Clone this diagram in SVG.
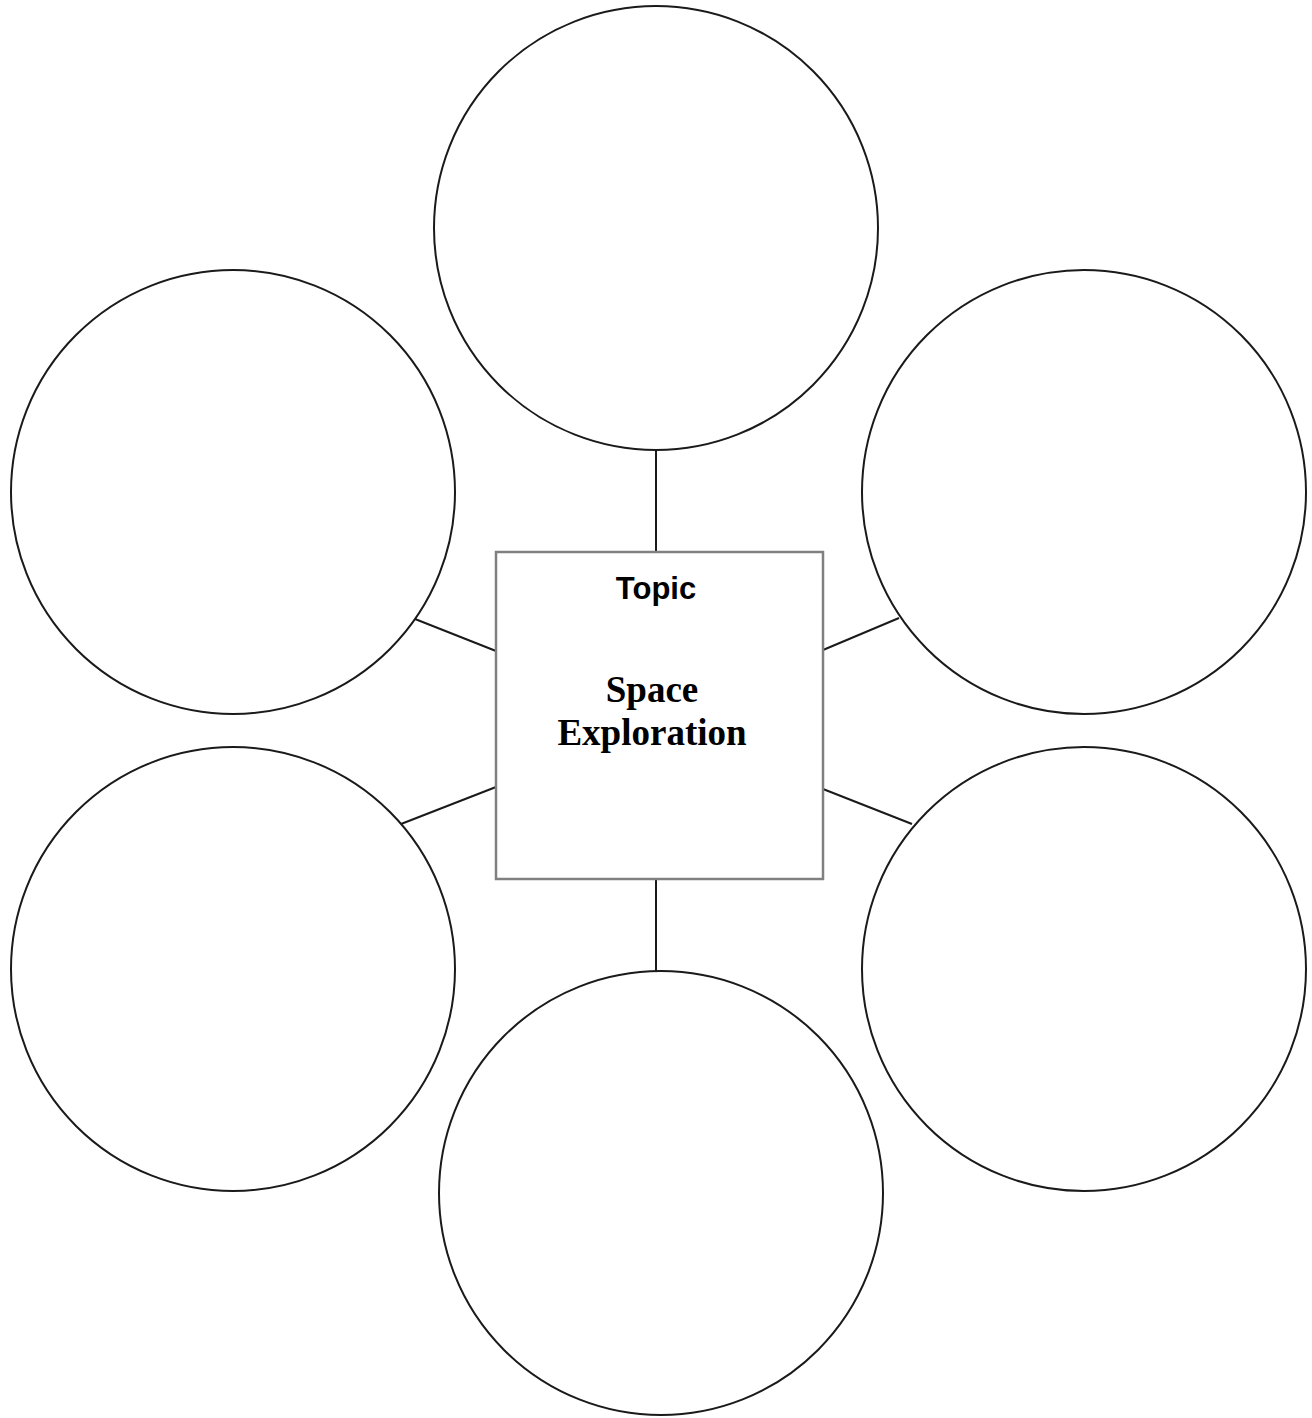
<svg xmlns="http://www.w3.org/2000/svg" width="1312" height="1418" viewBox="0 0 1312 1418">
<style>
.c{fill:#fff;stroke:#1a1a1a;stroke-width:2}
.l{stroke:#1a1a1a;stroke-width:2;fill:none}
.box{fill:#fff;stroke:#808080;stroke-width:2.5}
.t1{font-family:"Liberation Sans",Arial,sans-serif;font-weight:bold;font-size:31px;fill:#000}
.t2{font-family:"Liberation Serif","Times New Roman",serif;font-weight:bold;font-size:37px;fill:#000}
</style>
<rect width="1312" height="1418" fill="#fff"/>
<g id="connectors">
<line class="l" x1="656" y1="449" x2="656" y2="552"/>
<line class="l" x1="656" y1="879" x2="656" y2="971"/>
<line class="l" x1="415" y1="619" x2="496" y2="651"/>
<line class="l" x1="401" y1="824" x2="496" y2="787"/>
<line class="l" x1="823" y1="650" x2="899" y2="618"/>
<line class="l" x1="823" y1="789" x2="912" y2="824"/>
</g>
<g id="circle-top"><circle class="c" cx="656" cy="228" r="222"/></g>
<g id="circle-upper-left"><circle class="c" cx="233" cy="492" r="222"/></g>
<g id="circle-upper-right"><circle class="c" cx="1084" cy="492" r="222"/></g>
<g id="circle-lower-left"><circle class="c" cx="233" cy="969" r="222"/></g>
<g id="circle-lower-right"><circle class="c" cx="1084" cy="969" r="222"/></g>
<g id="circle-bottom"><circle class="c" cx="661" cy="1193" r="222"/></g>
<g id="topic">
<rect class="box" x="496" y="552" width="327" height="327"/>
<text class="t1" x="656" y="599" text-anchor="middle">Topic</text>
<text class="t2" x="652" y="702" text-anchor="middle">Space</text>
<text class="t2" x="652" y="745" text-anchor="middle">Exploration</text>
</g>
</svg>
